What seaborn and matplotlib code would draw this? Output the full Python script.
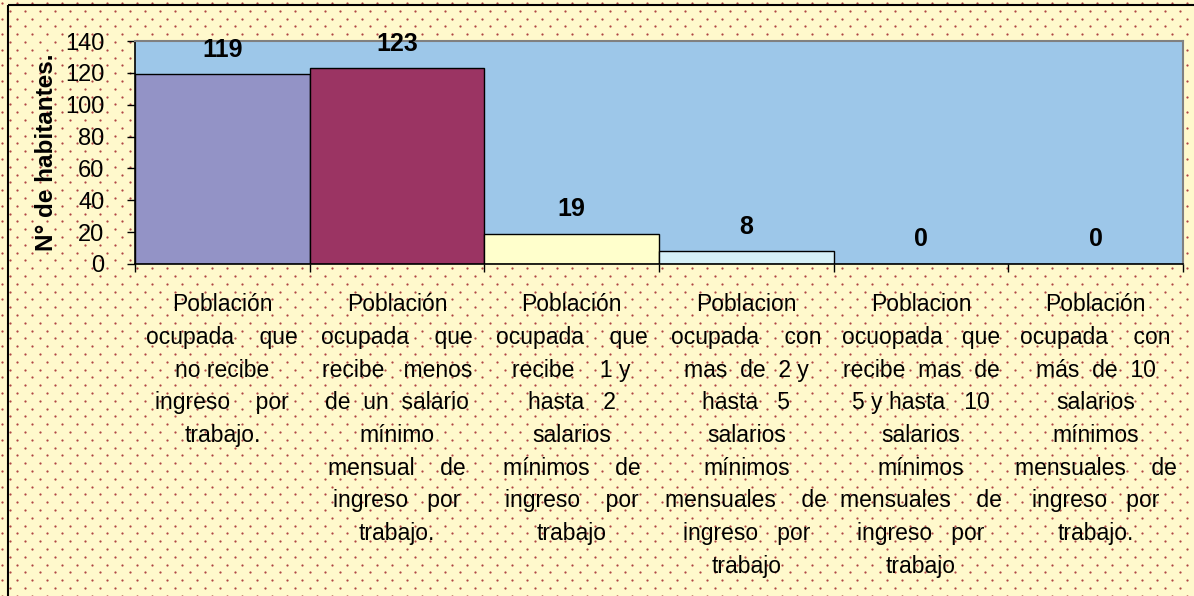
import numpy as np
import pandas as pd
import seaborn as sns
import matplotlib.pyplot as plt
from matplotlib.patches import Rectangle
from matplotlib import font_manager

categorias = [
    "Población\nocupada    que\nno recibe\ningreso    por\ntrabajo.",
    "Población\nocupada    que\nrecibe   menos\nde  un  salario\nmínimo\nmensual    de\ningreso   por\ntrabajo.",
    "Población\nocupada    que\nrecibe    1 y\nhasta   2\nsalarios\nmínimos    de\ningreso    por\ntrabajo",
    "Poblacion\nocupada    con\nmas  de  2 y\nhasta   5\nsalarios\nmínimos\nmensuales    de\ningreso   por\ntrabajo",
    "Poblacion\nocuopada   que\nrecibe  mas  de\n5 y hasta   10\nsalarios\nmínimos\nmensuales    de\ningreso   por\ntrabajo",
    "Población\nocupada    con\nmás  de  10\nsalarios\nmínimos\nmensuales    de\ningreso   por\ntrabajo.",
]
habitantes = [119, 123, 19, 8, 0, 0]
colores = ["#9393C6", "#9B3463", "#FFFFCC", "#D6F0F8", "#D6F0F8", "#D6F0F8"]
yticks = [0, 20, 40, 60, 80, 100, 120, 140]

sns.set_theme(style="white")
nombres = {f.name for f in font_manager.fontManager.ttflist}
fam = [f for f in ["Liberation Sans Narrow", "Liberation Sans"] if f in nombres] + ["DejaVu Sans"]
plt.rcParams["font.family"] = fam

df = pd.DataFrame({"cat": categorias, "val": habitantes})

fig = plt.figure(figsize=(11.94, 5.96), dpi=100)
fig.patch.set_facecolor("#FFF9CC")

# fondo punteado
bg = fig.add_axes([0, 0, 1, 1], zorder=-1)
bg.set_xlim(0, 1194)
bg.set_ylim(596, 0)
bg.axis("off")
px, py = [], []
for j, y in enumerate(np.arange(3, 600, 7.8)):
    for x in np.arange(2 + 7.5 * (j % 2), 1200, 15):
        px.append(x)
        py.append(y)
bg.scatter(px, py, s=2.6, color="#B04545", linewidths=0)
bg.add_patch(Rectangle((8, 5), 1300, 700, facecolor="none", edgecolor="black", linewidth=1.5))

ax = fig.add_axes([135 / 1194, 1 - 264 / 596, (1183 - 135) / 1194, (264 - 41) / 596])
ax.set_facecolor("#9DC7E9")
sns.barplot(data=df, x="cat", y="val", hue="cat", palette=colores, legend=False,
            width=1.0, edgecolor="black", linewidth=1.0, saturation=1, ax=ax)

for i, v in enumerate(habitantes):
    ax.annotate(str(v), (i, v), xytext=(0, 9), textcoords="offset points",
                ha="center", va="bottom", fontsize=18, fontweight="bold", color="black")

ax.set_xlim(-0.5, len(habitantes) - 0.5)
ax.set_ylim(0, 140)
ax.set_yticks(yticks)
ax.tick_params(axis="y", labelsize=17, length=6, width=1, direction="out", left=True,
               pad=16, color="black", labelcolor="black")
ax.set_xticks(range(len(categorias)))
ax.set_xticklabels(categorias, fontsize=16.5, linespacing=1.54, color="black")
ax.set_xticks(np.arange(-0.5, len(categorias), 1), minor=True)
ax.tick_params(axis="x", which="major", length=0, pad=21)
ax.tick_params(axis="x", which="minor", length=6, width=1, direction="out", bottom=True, color="black")
ax.set_xlabel("")
ax.set_ylabel("N° de habitantes.", fontsize=17.5, fontweight="bold", labelpad=5, color="black")

for s in ["top", "right"]:
    ax.spines[s].set_color("#808080")
    ax.spines[s].set_linewidth(1.5)
for s in ["left", "bottom"]:
    ax.spines[s].set_color("black")
    ax.spines[s].set_linewidth(1.2)

fig.savefig("out.png", dpi=100, facecolor=fig.get_facecolor())
